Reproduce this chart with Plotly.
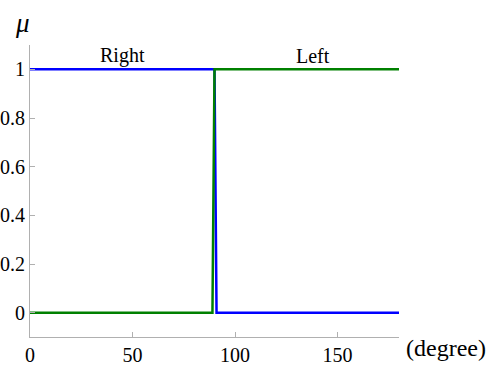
import plotly.graph_objects as go

# data
right_x = [0, 90, 91, 180]
right_mu = [1, 1, 0, 0]
left_x = [0, 89, 90, 180]
left_mu = [0, 0, 1, 1]
x_ticks = [0, 50, 100, 150]
y_ticks = [0, 0.2, 0.4, 0.6, 0.8, 1]
y_tick_text = ["0", "0.2", "0.4", "0.6", "0.8", "1"]

FONT = "Liberation Serif, Times New Roman, serif"
L, R, T, B = 30, 91, 45, 31
W, H = 490, 368

fig = go.Figure()
fig.add_trace(go.Scatter(x=right_x, y=right_mu, mode="lines",
                         line=dict(color="#0000ff", width=2.5), name="Right"))
fig.add_trace(go.Scatter(x=left_x, y=left_mu, mode="lines",
                         line=dict(color="#008000", width=2.5), name="Left"))

pw = W - L - R
ph = H - T - B


def px2paper(px, py):
    return (px - L) / pw, (H - B - py) / ph


dx, dy = px2paper(446, 348)
mx, my = px2paper(22, 23)

fig.update_layout(
    width=W, height=H,
    margin=dict(l=L, r=R, t=T, b=B, autoexpand=False),
    paper_bgcolor="white", plot_bgcolor="white",
    showlegend=False,
    font=dict(family=FONT, size=20, color="black"),
    xaxis=dict(range=[0, 180], tickvals=x_ticks, showgrid=False, zeroline=False,
               automargin=False,
               showline=True, linecolor="#b0b0b0", linewidth=1,
               ticks="inside", ticklen=5, tickcolor="#b0b0b0",
               tickfont=dict(family=FONT, size=20, color="black")),
    yaxis=dict(range=[-0.1, 1.1], tickvals=y_ticks, ticktext=y_tick_text,
               showgrid=False, zeroline=False, automargin=False,
               showline=True, linecolor="#b0b0b0", linewidth=1,
               ticks="inside", ticklen=5, tickcolor="#b0b0b0",
               tickfont=dict(family=FONT, size=20, color="black")),
    annotations=[
        dict(x=45, y=1, xref="x", yref="y", text="Right", showarrow=False,
             yanchor="bottom", font=dict(family=FONT, size=20, color="black")),
        dict(x=138, y=1, xref="x", yref="y", text="Left", showarrow=False,
             yanchor="bottom", font=dict(family=FONT, size=20, color="black")),
        dict(x=dx, y=dy, xref="paper", yref="paper", text="(degree)", showarrow=False,
             xanchor="center", yanchor="middle",
             font=dict(family=FONT, size=24, color="black")),
        dict(x=mx, y=my, xref="paper", yref="paper", text="<i>μ</i>", showarrow=False,
             xanchor="center", yanchor="middle",
             font=dict(family=FONT, size=27, color="black")),
    ],
)

fig.write_html("out.html")
